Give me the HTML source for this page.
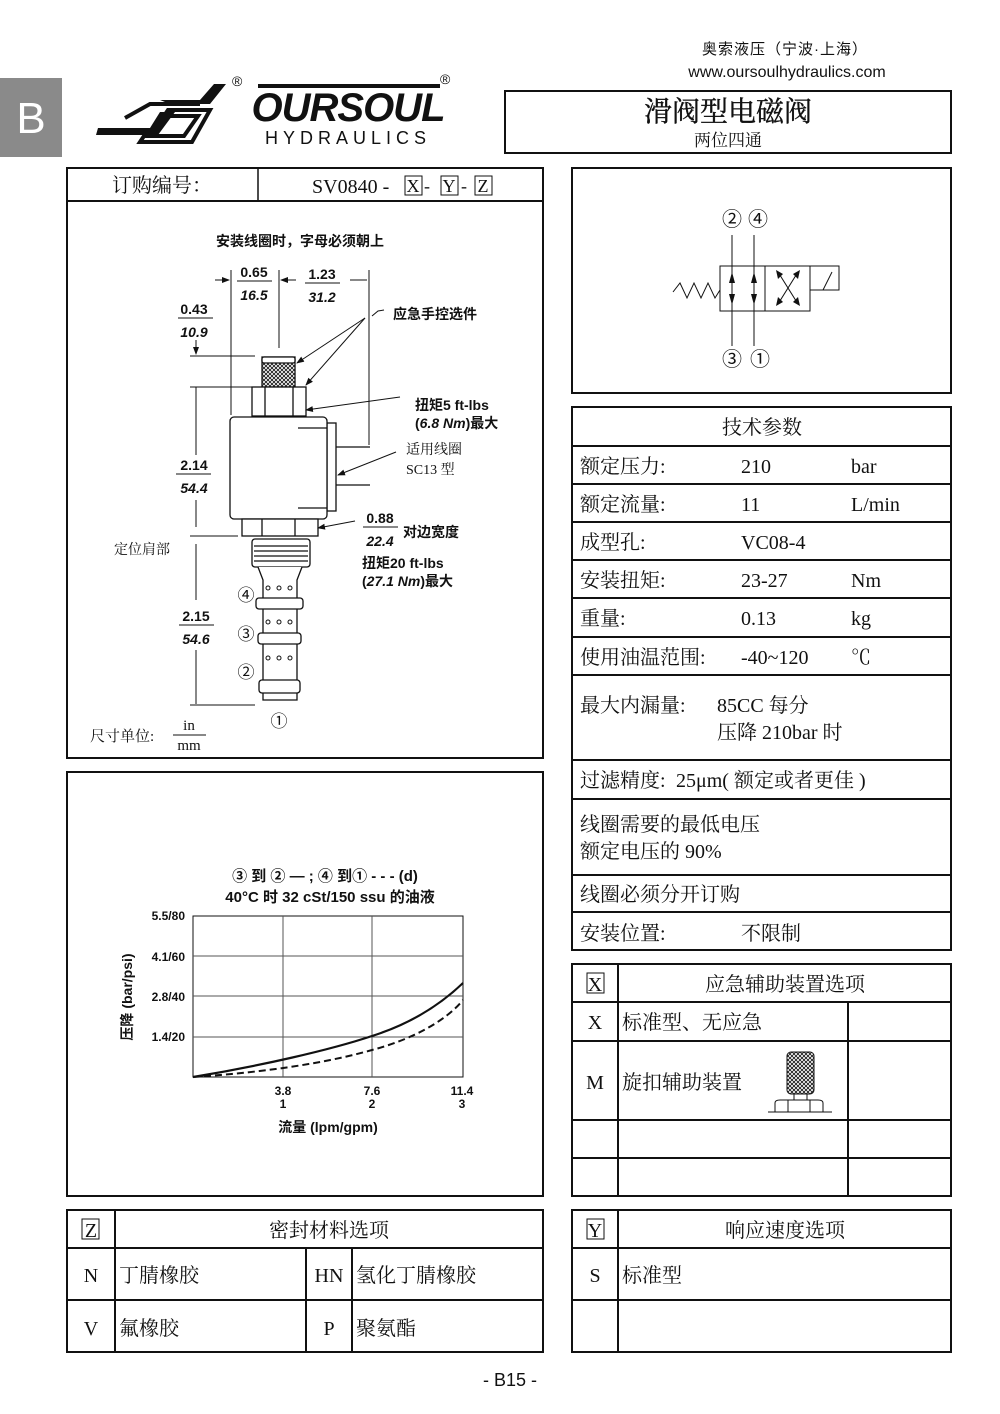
<!DOCTYPE html>
<html><head><meta charset="utf-8"><style>
html,body{margin:0;padding:0;background:#fff}
svg{display:block}
.s{font-family:"Liberation Serif","Noto Serif CJK SC",serif;fill:#111}
.a{font-family:"Liberation Sans","Noto Sans CJK SC",sans-serif;fill:#111}
.b{font-family:"Liberation Sans","Noto Sans CJK SC",sans-serif;font-weight:bold;fill:#111}
</style></head><body>
<svg width="1000" height="1414" viewBox="0 0 1000 1414" xmlns="http://www.w3.org/2000/svg">
<defs>
<pattern id="kn" width="4" height="4" patternUnits="userSpaceOnUse"><path d="M0 0L4 4M4 0L0 4" stroke="#111" stroke-width="0.8"/></pattern>
<marker id="ah" markerWidth="8" markerHeight="8" refX="7" refY="4" orient="auto" markerUnits="userSpaceOnUse"><path d="M0 1L8 4L0 7z" fill="#111"/></marker>
</defs>
<rect x="0" y="78" width="62" height="79" fill="#8a8a8a"/>
<text x="31" y="133" class="a" font-size="44" style="fill:#fff" text-anchor="middle">B</text>
<text x="785" y="54" class="a" font-size="15" text-anchor="middle" letter-spacing="1">奥索液压（宁波·上海）</text>
<text x="787" y="77" class="a" font-size="16" text-anchor="middle">www.oursoulhydraulics.com</text>
<g fill="#111">
<path d="M98 128L150 128L160 112L175 112L158 135L96 135z"/>
<path d="M160 100L200 100L214 84L226 84L210 104L170 104z"/>
<path d="M168 110L210 110L192 142L140 142L144 136L184 136L198 116L164 116z" fill="none" stroke="#111" stroke-width="4"/>
<path d="M125 118L150 104L200 104" fill="none" stroke="#111" stroke-width="4"/>
</g>
<text x="232" y="86" class="a" font-size="14">®</text>
<text x="440" y="84" class="a" font-size="14">®</text>
<text x="348" y="121" class="b" font-size="40" text-anchor="middle" font-style="italic" letter-spacing="-1">OURSOUL</text>
<rect x="258" y="84" width="182" height="4" fill="#111"/>
<text x="348" y="144" class="a" font-size="18" text-anchor="middle" letter-spacing="5">HYDRAULICS</text>
<rect x="505" y="91" width="446" height="62" fill="none" stroke="#111" stroke-width="2"/>
<text x="728" y="121" class="s" font-size="28" text-anchor="middle" stroke="#111" stroke-width="0.4">滑阀型电磁阀</text>
<text x="728" y="146" class="s" font-size="17" text-anchor="middle">两位四通</text>
<rect x="67" y="168" width="476" height="590" fill="none" stroke="#111" stroke-width="2"/>
<line x1="67" y1="201" x2="543" y2="201" stroke="#111" stroke-width="2"/>
<line x1="258" y1="168" x2="258" y2="201" stroke="#111" stroke-width="1.5"/>
<text x="162" y="192" class="s" font-size="20" text-anchor="middle">订购编号：</text>
<text x="312" y="193" class="s" font-size="20">SV0840 -</text>
<rect x="405" y="176" width="17" height="19" fill="none" stroke="#111"/><text x="413" y="192" class="s" font-size="18" text-anchor="middle">X</text>
<text x="424" y="192" class="s" font-size="18">-</text>
<rect x="441" y="176" width="17" height="19" fill="none" stroke="#111"/><text x="449" y="192" class="s" font-size="18" text-anchor="middle">Y</text>
<text x="461" y="192" class="s" font-size="18">-</text>
<rect x="475" y="176" width="17" height="19" fill="none" stroke="#111"/><text x="483" y="192" class="s" font-size="18" text-anchor="middle">Z</text>
<text x="300" y="246" class="b" font-size="14" text-anchor="middle">安装线圈时，字母必须朝上</text>
<g stroke="#111" stroke-width="1" fill="none">
<line x1="231" y1="270" x2="231" y2="415"/><line x1="279" y1="270" x2="279" y2="348"/><line x1="369" y1="270" x2="369" y2="445"/>
<line x1="215" y1="280" x2="229" y2="280" marker-end="url(#ah)"/><line x1="296" y1="280" x2="281" y2="280" marker-end="url(#ah)"/>
<line x1="350" y1="280" x2="367" y2="280"/>
<line x1="190" y1="356" x2="255" y2="356"/>
<line x1="196" y1="340" x2="196" y2="354" marker-end="url(#ah)"/>
<line x1="196" y1="387" x2="196" y2="455"/><line x1="196" y1="500" x2="196" y2="527"/>
<line x1="190" y1="387" x2="252" y2="387"/>
<line x1="196" y1="544" x2="196" y2="600"/><line x1="196" y1="650" x2="196" y2="704"/>
<line x1="190" y1="536" x2="238" y2="536"/><line x1="190" y1="705" x2="255" y2="705"/>
</g>
<text x="254" y="277" class="b" font-size="14" text-anchor="middle">0.65</text>
<line x1="237" y1="281" x2="272" y2="281" stroke="#111"/>
<text x="254" y="300" class="b" font-size="14" text-anchor="middle" font-style="italic">16.5</text>
<text x="322" y="279" class="b" font-size="14" text-anchor="middle">1.23</text>
<line x1="305" y1="283" x2="340" y2="283" stroke="#111"/>
<text x="322" y="302" class="b" font-size="14" text-anchor="middle" font-style="italic">31.2</text>
<text x="194" y="314" class="b" font-size="14" text-anchor="middle">0.43</text>
<line x1="178" y1="318" x2="213" y2="318" stroke="#111"/>
<text x="194" y="337" class="b" font-size="14" text-anchor="middle" font-style="italic">10.9</text>
<text x="194" y="470" class="b" font-size="14" text-anchor="middle">2.14</text>
<line x1="176" y1="474" x2="211" y2="474" stroke="#111"/>
<text x="194" y="493" class="b" font-size="14" text-anchor="middle" font-style="italic">54.4</text>
<text x="196" y="621" class="b" font-size="14" text-anchor="middle">2.15</text>
<line x1="179" y1="625" x2="214" y2="625" stroke="#111"/>
<text x="196" y="644" class="b" font-size="14" text-anchor="middle" font-style="italic">54.6</text>
<g stroke="#111" stroke-width="1.3" fill="#fff">
<rect x="262" y="357" width="33" height="30" fill="url(#kn)"/>
<rect x="262" y="357" width="33" height="6" rx="2"/>
<rect x="252" y="387" width="54" height="29"/>
<line x1="265" y1="387" x2="265" y2="416"/><line x1="293" y1="387" x2="293" y2="416"/>
<rect x="327" y="423" width="9" height="88"/>
<rect x="230" y="417" width="97" height="102" rx="4"/>
<line x1="298" y1="428" x2="327" y2="428"/><line x1="298" y1="508" x2="327" y2="508"/>
<line x1="336" y1="447" x2="370" y2="447"/><line x1="336" y1="485" x2="370" y2="485"/>
<rect x="242" y="519" width="76" height="17"/>
<line x1="262" y1="519" x2="262" y2="536"/><line x1="295" y1="519" x2="295" y2="536"/>
<rect x="252" y="539" width="58" height="28" rx="3"/>
<line x1="254" y1="546" x2="308" y2="546"/><line x1="254" y1="551" x2="308" y2="551"/><line x1="254" y1="556" x2="308" y2="556"/><line x1="254" y1="561" x2="308" y2="561"/>
<path d="M258 567L263 580L263 700L297 700L297 580L302 567"/>
<rect x="256" y="598" width="47" height="11" rx="3"/>
<rect x="258" y="633" width="43" height="11" rx="3"/>
<rect x="259" y="680" width="41" height="13" rx="3"/>
</g>
<g fill="none" stroke="#111" stroke-width="1">
<circle cx="268" cy="588" r="2"/><circle cx="279" cy="588" r="2"/><circle cx="290" cy="588" r="2"/>
<circle cx="268" cy="622" r="2"/><circle cx="279" cy="622" r="2"/><circle cx="290" cy="622" r="2"/>
<circle cx="268" cy="658" r="2"/><circle cx="279" cy="658" r="2"/><circle cx="290" cy="658" r="2"/>
</g>
<g class="a" font-size="17" text-anchor="middle">
<text x="246" y="601">④</text><text x="246" y="640">③</text><text x="246" y="678">②</text><text x="279" y="727">①</text>
</g>
<g stroke="#111" stroke-width="1" fill="none">
<line x1="365" y1="318" x2="297" y2="363" marker-end="url(#ah)"/>
<line x1="365" y1="318" x2="306" y2="385" marker-end="url(#ah)"/>
<path d="M372 316L378 311L384 310"/>
<line x1="400" y1="397" x2="306" y2="410" marker-end="url(#ah)"/>
<line x1="396" y1="452" x2="338" y2="475" marker-end="url(#ah)"/>
<line x1="355" y1="521" x2="318" y2="528" marker-end="url(#ah)"/>
</g>
<text x="393" y="319" class="b" font-size="14">应急手控选件</text>
<text x="415" y="410" class="b" font-size="14">扭矩5 ft-lbs</text>
<text x="415" y="428" class="b" font-size="14">(<tspan font-style="italic">6.8 Nm</tspan>)最大</text>
<text x="406" y="454" class="s" font-size="14">适用线圈</text>
<text x="406" y="474" class="s" font-size="14">SC13 型</text>
<text x="380" y="523" class="b" font-size="14" text-anchor="middle">0.88</text>
<line x1="363" y1="527" x2="398" y2="527" stroke="#111"/>
<text x="380" y="546" class="b" font-size="14" text-anchor="middle" font-style="italic">22.4</text>
<text x="403" y="537" class="b" font-size="14">对边宽度</text>
<text x="362" y="568" class="b" font-size="14">扭矩20 ft-lbs</text>
<text x="362" y="586" class="b" font-size="14">(<tspan font-style="italic">27.1 Nm</tspan>)最大</text>
<text x="114" y="554" class="s" font-size="14">定位肩部</text>
<text x="90" y="741" class="s" font-size="15">尺寸单位:</text>
<text x="189" y="730" class="s" font-size="15" text-anchor="middle">in</text>
<line x1="173" y1="735" x2="206" y2="735" stroke="#111"/>
<text x="189" y="750" class="s" font-size="15" text-anchor="middle">mm</text>
<rect x="67" y="772" width="476" height="424" fill="none" stroke="#111" stroke-width="2"/>
<text x="325" y="881" class="b" font-size="15" text-anchor="middle">③ 到 ② — ; ④ 到① - - - (d)</text>
<text x="330" y="902" class="b" font-size="15" text-anchor="middle">40°C 时 32 cSt/150 ssu 的油液</text>
<g stroke="#555" stroke-width="1" fill="none">
<rect x="193" y="916" width="270" height="161" stroke="#111"/>
<line x1="283" y1="916" x2="283" y2="1077"/><line x1="372" y1="916" x2="372" y2="1077"/>
<line x1="193" y1="956" x2="463" y2="956"/><line x1="193" y1="996" x2="463" y2="996"/><line x1="193" y1="1037" x2="463" y2="1037"/>
</g>
<path d="M193 1077 C260 1066 330 1050 372 1036 C410 1024 440 1005 463 983" stroke="#111" stroke-width="2.2" fill="none"/>
<path d="M193 1077 C270 1072 330 1062 372 1050 C410 1040 445 1022 463 1000" stroke="#111" stroke-width="2" fill="none" stroke-dasharray="7,4"/>
<g class="b" font-size="12" text-anchor="end">
<text x="185" y="920">5.5/80</text><text x="185" y="961">4.1/60</text><text x="185" y="1001">2.8/40</text><text x="185" y="1041">1.4/20</text>
</g>
<g class="b" font-size="12" text-anchor="middle">
<text x="283" y="1095">3.8</text><text x="283" y="1108">1</text>
<text x="372" y="1095">7.6</text><text x="372" y="1108">2</text>
<text x="462" y="1095">11.4</text><text x="462" y="1108">3</text>
</g>
<text x="328" y="1132" class="b" font-size="14" text-anchor="middle">流量 (lpm/gpm)</text>
<text transform="translate(132 997) rotate(-90)" class="b" font-size="14" text-anchor="middle">压降 (bar/psi)</text>
<rect x="572" y="168" width="379" height="225" fill="none" stroke="#111" stroke-width="2"/>
<g stroke="#111" stroke-width="1" fill="none">
<rect x="720" y="266" width="45" height="45"/><rect x="765" y="266" width="45" height="45"/>
<path d="M810 266H839V290H810"/><line x1="823" y1="290" x2="832" y2="272"/>
<path d="M673 292L680 283L687 298L694 283L701 298L708 283L715 298L720 290"/>
<line x1="732" y1="235" x2="732" y2="346"/><line x1="754" y1="235" x2="754" y2="346"/>
<line x1="778" y1="304" x2="798" y2="272"/><line x1="778" y1="272" x2="798" y2="304"/>
</g>
<g fill="#111">
<path d="M729 283L735 283L732 272z"/><path d="M729 294L735 294L732 305z"/>
<path d="M751 283L757 283L754 272z"/><path d="M751 294L757 294L754 305z"/>
<path d="M776 270L783 274L778 279z"/><path d="M800 270L793 274L798 279z"/>
<path d="M776 306L783 302L778 297z"/><path d="M800 306L793 302L798 297z"/>
</g>
<g class="a" font-size="20" text-anchor="middle">
<text x="732" y="226">②</text><text x="758" y="226">④</text><text x="732" y="366">③</text><text x="760" y="366">①</text>
</g>
<g stroke="#111" stroke-width="2" fill="none">
<rect x="572" y="407" width="379" height="543"/>
<line x1="572" y1="446" x2="951" y2="446"/><line x1="572" y1="484" x2="951" y2="484"/><line x1="572" y1="522" x2="951" y2="522"/>
<line x1="572" y1="560" x2="951" y2="560"/><line x1="572" y1="598" x2="951" y2="598"/><line x1="572" y1="637" x2="951" y2="637"/>
<line x1="572" y1="675" x2="951" y2="675"/><line x1="572" y1="760" x2="951" y2="760"/><line x1="572" y1="799" x2="951" y2="799"/>
<line x1="572" y1="875" x2="951" y2="875"/><line x1="572" y1="912" x2="951" y2="912"/>
</g>
<g class="s" font-size="20">
<text x="762" y="434" text-anchor="middle">技术参数</text>
<text x="580" y="473">额定压力:</text><text x="741" y="473">210</text><text x="851" y="473">bar</text>
<text x="580" y="511">额定流量:</text><text x="741" y="511">11</text><text x="851" y="511">L/min</text>
<text x="580" y="549">成型孔:</text><text x="741" y="549">VC08-4</text>
<text x="580" y="587">安装扭矩:</text><text x="741" y="587">23-27</text><text x="851" y="587">Nm</text>
<text x="580" y="625">重量:</text><text x="741" y="625">0.13</text><text x="851" y="625">kg</text>
<text x="580" y="664">使用油温范围:</text><text x="741" y="664">-40~120</text><text x="851" y="664">℃</text>
<text x="580" y="712">最大内漏量:</text><text x="717" y="712">85CC 每分</text>
<text x="717" y="739">压降 210bar 时</text>
<text x="580" y="787">过滤精度:</text><text x="676" y="787">25μm( 额定或者更佳 )</text>
<text x="580" y="831">线圈需要的最低电压</text>
<text x="580" y="858">额定电压的 90%</text>
<text x="580" y="901">线圈必须分开订购</text>
<text x="580" y="940">安装位置:</text><text x="741" y="940">不限制</text>
</g>
<g stroke="#111" stroke-width="2" fill="none">
<rect x="572" y="964" width="379" height="232"/>
<line x1="572" y1="1002" x2="951" y2="1002"/><line x1="572" y1="1041" x2="951" y2="1041"/>
<line x1="572" y1="1120" x2="951" y2="1120"/><line x1="572" y1="1158" x2="951" y2="1158"/>
<line x1="618" y1="964" x2="618" y2="1196"/><line x1="848" y1="1002" x2="848" y2="1196"/>
</g>
<rect x="587" y="973" width="17" height="20" fill="none" stroke="#111"/>
<g class="s" font-size="20">
<text x="595" y="991" text-anchor="middle">X</text>
<text x="785" y="991" text-anchor="middle">应急辅助装置选项</text>
<text x="595" y="1029" text-anchor="middle">X</text><text x="622" y="1029">标准型、无应急</text>
<text x="595" y="1089" text-anchor="middle">M</text><text x="622" y="1089">旋扣辅助装置</text>
</g>
<g stroke="#111" stroke-width="1">
<rect x="787" y="1052" width="27" height="42" rx="4" fill="url(#kn)"/>
<rect x="794" y="1094" width="13" height="6" fill="#fff"/>
<path d="M775 1112V1103Q775 1100 780 1100H818Q823 1100 823 1103V1112" fill="#fff"/>
<line x1="788" y1="1100" x2="788" y2="1112"/><line x1="810" y1="1100" x2="810" y2="1112"/>
<line x1="768" y1="1112" x2="832" y2="1112"/>
</g>
<g stroke="#111" stroke-width="2" fill="none">
<rect x="67" y="1210" width="476" height="142"/>
<line x1="67" y1="1248" x2="543" y2="1248"/><line x1="67" y1="1300" x2="543" y2="1300"/>
<line x1="115" y1="1210" x2="115" y2="1352"/><line x1="306" y1="1248" x2="306" y2="1352"/><line x1="352" y1="1248" x2="352" y2="1352"/>
</g>
<rect x="82" y="1219" width="17" height="20" fill="none" stroke="#111"/>
<g class="s" font-size="20">
<text x="91" y="1237" text-anchor="middle">Z</text>
<text x="329" y="1237" text-anchor="middle">密封材料选项</text>
<text x="91" y="1282" text-anchor="middle">N</text><text x="119" y="1282">丁腈橡胶</text>
<text x="329" y="1282" text-anchor="middle">HN</text><text x="356" y="1282">氢化丁腈橡胶</text>
<text x="91" y="1335" text-anchor="middle">V</text><text x="119" y="1335">氟橡胶</text>
<text x="329" y="1335" text-anchor="middle">P</text><text x="356" y="1335">聚氨酯</text>
</g>
<g stroke="#111" stroke-width="2" fill="none">
<rect x="572" y="1210" width="379" height="142"/>
<line x1="572" y1="1248" x2="951" y2="1248"/><line x1="572" y1="1300" x2="951" y2="1300"/>
<line x1="618" y1="1210" x2="618" y2="1352"/>
</g>
<rect x="587" y="1219" width="17" height="20" fill="none" stroke="#111"/>
<g class="s" font-size="20">
<text x="595" y="1237" text-anchor="middle">Y</text>
<text x="785" y="1237" text-anchor="middle">响应速度选项</text>
<text x="595" y="1282" text-anchor="middle">S</text><text x="622" y="1282">标准型</text>
</g>
<text x="510" y="1386" class="a" font-size="18" text-anchor="middle">- B15 -</text>
</svg>
</body></html>
